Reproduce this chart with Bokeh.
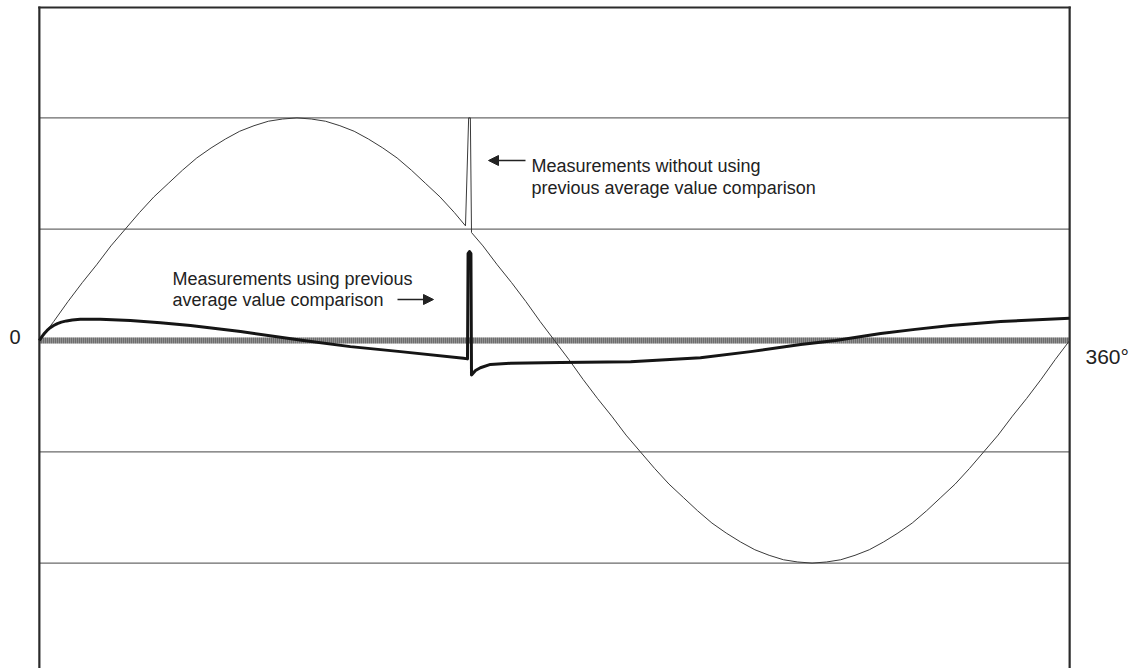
from bokeh.plotting import figure
from bokeh.models import Label, Arrow, NormalHead, Range1d, ColumnDataSource
from bokeh.embed import file_html
from bokeh.resources import INLINE

# ---- data (x in degrees, y in grid units) ----
thin_deg = [0, 5, 10, 15, 20, 25, 30, 35, 40, 45, 50, 55, 60, 65, 70, 75, 80, 85, 90,
            95, 100, 105, 110, 115, 120, 125, 130, 135, 140, 145,
            148.9, 150.0, 150.6, 151.0, 155, 160, 165, 170, 175, 180,
            185, 190, 195, 200, 205, 210, 215, 220, 225, 230, 235, 240, 245, 250, 255, 260, 265, 270,
            275, 280, 285, 290, 295, 300, 305, 310, 315, 320, 325, 330, 335, 340, 345, 350, 355, 360]
thin_val = [0, 0.17, 0.35, 0.52, 0.68, 0.85, 1.0, 1.15, 1.29, 1.41, 1.53, 1.64, 1.73, 1.81, 1.88, 1.93, 1.97, 1.99, 2.0,
            1.99, 1.97, 1.93, 1.88, 1.81, 1.73, 1.64, 1.53, 1.41, 1.29, 1.15,
            1.03, 2.0, 2.0, 0.97, 0.85, 0.68, 0.52, 0.35, 0.17, 0,
            -0.17, -0.35, -0.52, -0.68, -0.85, -1.0, -1.15, -1.29, -1.41, -1.53, -1.64, -1.73, -1.81, -1.88, -1.93, -1.97, -1.99, -2.0,
            -1.99, -1.97, -1.93, -1.88, -1.81, -1.73, -1.64, -1.53, -1.41, -1.29, -1.15, -1.0, -0.85, -0.68, -0.52, -0.35, -0.17, 0]

thick_deg = [0, 0.9, 1.8, 2.7, 3.8, 5.0, 6.3, 7.7, 9.5, 11.5, 14.3, 21.3, 31.8, 42.3, 52.8, 70.3, 92.3, 108.7, 126.2,
             148.2, 149.6, 149.8, 150.3, 150.8, 151.0, 151.7, 152.4, 154.1, 157.6, 164.6,
             182.1, 206.6, 231.0, 248.5, 266.0, 278.2, 294.0, 306.0, 318.4, 335.9, 360]
thick_val = [0, 0.035, 0.065, 0.09, 0.115, 0.135, 0.152, 0.165, 0.176, 0.184, 0.19, 0.19, 0.18, 0.16, 0.135, 0.08, 0.0, -0.055, -0.10,
             -0.16, -0.165, 0.78, 0.80, 0.78, -0.31, -0.29, -0.27, -0.245, -0.215, -0.205,
             -0.198, -0.19, -0.155, -0.10, -0.035, 0.0, 0.062, 0.1, 0.135, 0.17, 0.2]

grid_levels = [-2, -1, 1, 2]
x_start, x_end = 0, 360
tick_left = "0"
tick_right = "360°"
note_upper = ["Measurements without using", "previous average value comparison"]
note_lower = ["Measurements using previous", "average value comparison"]

FONT = "Liberation Sans"
W, H = 1136, 668
X0PX, PX_X = 38.86, 2.8619     # page px of 0 degrees, px per degree
Y0PX, PX_Y = 340.0, 111.3      # page px of zero line, px per grid unit


def dx(px):
    return (px - X0PX) / PX_X


def dy(py):
    return (Y0PX - py) / PX_Y


p = figure(width=W, height=H, output_backend="svg", toolbar_location=None,
           x_range=Range1d(dx(0), dx(W)), y_range=Range1d(dy(H), dy(0)),
           min_border=0, min_border_left=0, min_border_right=0, min_border_top=0, min_border_bottom=0,
           outline_line_color=None, background_fill_color="white", border_fill_color="white")
p.axis.visible = False
p.grid.visible = False

# grid lines between the side borders
grid = ColumnDataSource(dict(x0=[x_start] * len(grid_levels), x1=[x_end] * len(grid_levels), y=grid_levels))
p.segment(x0="x0", y0="y", x1="x1", y1="y", source=grid, line_color="#6a6a6a", line_width=1.2)

# hatched zero band
band = ColumnDataSource(dict(x0=[x_start], x1=[x_end], y=[0]))
p.segment(x0="x0", y0="y", x1="x1", y1="y", source=band, line_color="#c4c4c4", line_width=6)
p.segment(x0="x0", y0="y", x1="x1", y1="y", source=band, line_color="#3c3c3c", line_width=6,
          line_dash="1 1")

# box borders (left, right, top)
top_v = dy(7)
bot_v = dy(H + 5)
borders = ColumnDataSource(dict(x0=[x_start, x_end, x_start], y0=[bot_v, bot_v, top_v],
                                x1=[x_start, x_end, x_end], y1=[top_v, top_v, top_v]))
p.segment(x0="x0", y0="y0", x1="x1", y1="y1", source=borders, line_color="#2b2b2b", line_width=2.2,
          line_cap="square")

# series
p.line(thin_deg, thin_val, line_color="#3a3a3a", line_width=1)
p.line(thick_deg, thick_val, line_color="#151515", line_width=3, line_join="round")


def lab(text, px, py, size):
    p.add_layout(Label(x=dx(px), y=dy(py), text=text,
                       text_font=FONT, text_font_size=size, text_color="#222222",
                       text_align="left", text_baseline="alphabetic"))


lab(tick_left, 9, 336.5, "20px")
lab(tick_right, 1085, 355.5, "21px")
lab(note_upper[0], 531, 165.6, "18px")
lab(note_upper[1], 531, 187.1, "18px")
lab(note_lower[0], 172, 278.6, "18px")
lab(note_lower[1], 172, 299.1, "18px")


def arrow(px0, px1, py):
    p.add_layout(Arrow(end=NormalHead(size=10, fill_color="#222222", line_color="#222222"),
                       x_start=dx(px0), x_end=dx(px1), y_start=dy(py), y_end=dy(py),
                       line_color="#222222", line_width=1.3))


arrow(525, 488, 160)
arrow(397, 433, 299)

open("out.html", "w").write(file_html(p, INLINE))
